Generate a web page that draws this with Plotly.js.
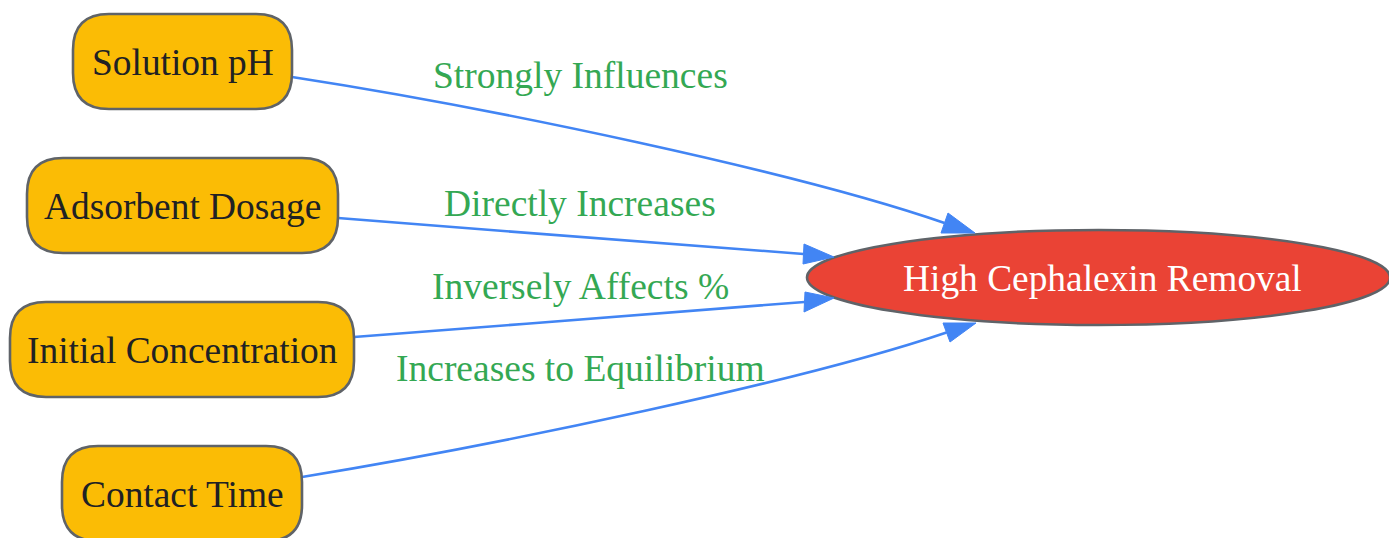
<!DOCTYPE html>
<html>
<head>
<meta charset="utf-8">
<script src="https://cdn.plot.ly/plotly-3.0.1.min.js"></script>
<style>
html,body{margin:0;padding:0;background:#fff;}
#chart{width:1389px;height:538px;}
</style>
</head>
<body>
<div id="chart"></div>
<script>
// ---- data ----
var sourceNodes = ['Solution pH', 'Adsorbent Dosage', 'Initial Concentration', 'Contact Time'];
var targetNode = 'High Cephalexin Removal';
var edgeLabels = ['Strongly Influences', 'Directly Increases', 'Inversely Affects %', 'Increases to Equilibrium'];

// ---- layout geometry (graph layout, not data) ----
var boxGeom = [
  {x0: 73, x1: 292, y0: 14, y1: 109},
  {x0: 27, x1: 338, y0: 158, y1: 253},
  {x0: 10, x1: 354, y0: 302, y1: 397},
  {x0: 62, x1: 302, y0: 446, y1: 541}
];
var ellGeom = {cx: 1098.5, cy: 277.5, rx: 291.5, ry: 47.5};
var edgeGeom = [
  {p0: [292, 77], p1: [493, 108], p2: [797, 172], p3: [944.5, 223], tip: [975, 233], b1: [948, 213], b2: [941, 233]},
  {p0: [338, 218], p1: [500, 231], p2: [700, 246], p3: [803.5, 254], tip: [834, 257], b1: [804, 244], b2: [803, 264]},
  {p0: [354, 337], p1: [500, 326], p2: [700, 310], p3: [804.5, 302], tip: [834, 298], b1: [805, 292], b2: [804, 312]},
  {p0: [302, 477], p1: [503, 444], p2: [804, 381], p3: [946.5, 332.5], tip: [976, 323], b1: [943, 323], b2: [950, 342]}
];
var labelPos = [[580, 75], [580, 203], [580, 286], [580, 368]];

var FONT = 'Liberation Serif, Times New Roman, serif';
var shapes = [];
var annotations = [];

// edges
edgeGeom.forEach(function (e) {
  shapes.push({
    type: 'path', xref: 'x', yref: 'y',
    path: 'M' + e.p0[0] + ',' + e.p0[1] + ' C' + e.p1[0] + ',' + e.p1[1] + ' ' + e.p2[0] + ',' + e.p2[1] + ' ' + e.p3[0] + ',' + e.p3[1],
    line: {color: '#4285F4', width: 2.6}
  });
});

// source boxes (rounded)
function roundRect(g, r) {
  return 'M' + (g.x0 + r) + ',' + g.y0 +
    ' L' + (g.x1 - r) + ',' + g.y0 +
    ' Q' + g.x1 + ',' + g.y0 + ' ' + g.x1 + ',' + (g.y0 + r) +
    ' L' + g.x1 + ',' + (g.y1 - r) +
    ' Q' + g.x1 + ',' + g.y1 + ' ' + (g.x1 - r) + ',' + g.y1 +
    ' L' + (g.x0 + r) + ',' + g.y1 +
    ' Q' + g.x0 + ',' + g.y1 + ' ' + g.x0 + ',' + (g.y1 - r) +
    ' L' + g.x0 + ',' + (g.y0 + r) +
    ' Q' + g.x0 + ',' + g.y0 + ' ' + (g.x0 + r) + ',' + g.y0 + ' Z';
}
sourceNodes.forEach(function (name, i) {
  var g = boxGeom[i];
  shapes.push({
    type: 'path', xref: 'x', yref: 'y', path: roundRect(g, 36),
    fillcolor: '#FBBC05', line: {color: '#5F6368', width: 2.6}
  });
  annotations.push({
    x: (g.x0 + g.x1) / 2, y: (g.y0 + g.y1) / 2 + 1, xref: 'x', yref: 'y',
    text: name, showarrow: false, xanchor: 'center', yanchor: 'middle',
    font: {family: FONT, size: 37.4, color: '#202124'}
  });
});

// target ellipse
shapes.push({
  type: 'circle', xref: 'x', yref: 'y',
  x0: ellGeom.cx - ellGeom.rx, x1: ellGeom.cx + ellGeom.rx,
  y0: ellGeom.cy - ellGeom.ry, y1: ellGeom.cy + ellGeom.ry,
  fillcolor: '#EA4335', line: {color: '#5F6368', width: 2.6}
});
annotations.push({
  x: ellGeom.cx + 4, y: ellGeom.cy + 1, xref: 'x', yref: 'y',
  text: targetNode, showarrow: false, xanchor: 'center', yanchor: 'middle',
  font: {family: FONT, size: 37.4, color: '#FFFFFF'}
});

// arrowheads (drawn on top)
edgeGeom.forEach(function (e) {
  shapes.push({
    type: 'path', xref: 'x', yref: 'y',
    path: 'M' + e.tip[0] + ',' + e.tip[1] + ' L' + e.b1[0] + ',' + e.b1[1] + ' L' + e.b2[0] + ',' + e.b2[1] + ' Z',
    fillcolor: '#4285F4', line: {color: '#4285F4', width: 1}
  });
});

// edge labels
edgeLabels.forEach(function (t, i) {
  annotations.push({
    x: labelPos[i][0], y: labelPos[i][1], xref: 'x', yref: 'y',
    text: t, showarrow: false, xanchor: 'center', yanchor: 'middle',
    font: {family: FONT, size: 37.5, color: '#34A853'}
  });
});

var layout = {
  width: 1389, height: 538,
  margin: {l: 0, r: 0, t: 0, b: 0, pad: 0},
  paper_bgcolor: '#FFFFFF', plot_bgcolor: '#FFFFFF',
  showlegend: false,
  xaxis: {range: [0, 1389], visible: false, fixedrange: true},
  yaxis: {range: [538, 0], visible: false, fixedrange: true},
  shapes: shapes,
  annotations: annotations
};

Plotly.newPlot('chart', [], layout, {displayModeBar: false, staticPlot: true});
</script>
</body>
</html>
